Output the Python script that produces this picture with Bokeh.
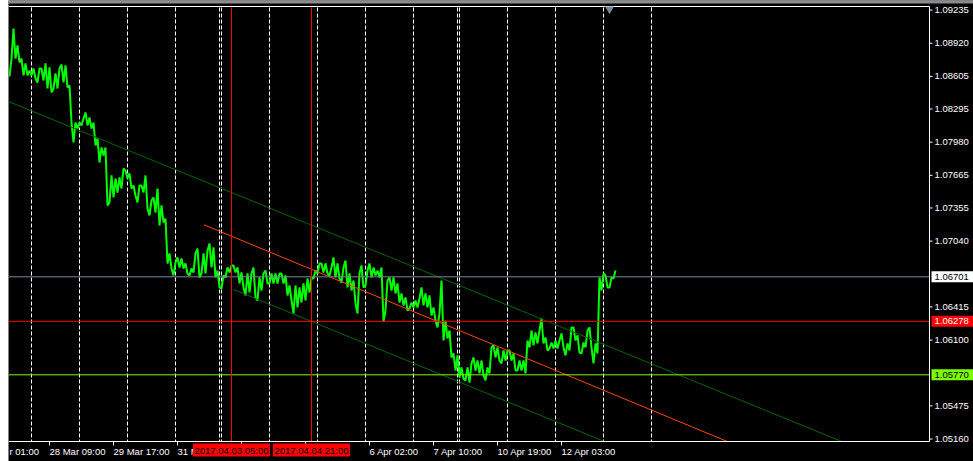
from bokeh.plotting import figure
from bokeh.models import Range1d
from bokeh.core.properties import value
from bokeh.embed import file_html
from bokeh.resources import INLINE

# ---- price data (EURUSD, 1 bar = 1 trading hour), read in 2-bar windows ----
highs = [1.08775, 1.09060, 1.08899, 1.08775, 1.08728, 1.08661, 1.08680, 1.08680, 1.08680, 1.08728,
         1.08690, 1.08633, 1.08680, 1.08718, 1.08709, 1.08519, 1.08167, 1.08167, 1.08205, 1.08262,
         1.08215, 1.08167, 1.08015, 1.07930, 1.07930, 1.07664, 1.07635, 1.07645, 1.07730, 1.07711,
         1.07683, 1.07569, 1.07569, 1.07569, 1.07664, 1.07426, 1.07455, 1.07540, 1.07379, 1.07255,
         1.06923, 1.06837, 1.06885, 1.06875, 1.06828, 1.06780, 1.06923, 1.06970, 1.06923, 1.06951,
         1.07018, 1.06980, 1.06761, 1.06714, 1.06790, 1.06809, 1.06809, 1.06790, 1.06742, 1.06733,
         1.06733, 1.06790, 1.06695, 1.06733, 1.06761, 1.06733, 1.06733, 1.06733, 1.06733, 1.06714,
         1.06619, 1.06619, 1.06600, 1.06638, 1.06685, 1.06695, 1.06761, 1.06828, 1.06828, 1.06828,
         1.06790, 1.06885, 1.06828, 1.06790, 1.06856, 1.06733, 1.06666, 1.06733, 1.06809, 1.06761,
         1.06828, 1.06790, 1.06761, 1.06790, 1.06666, 1.06695, 1.06695, 1.06638, 1.06543, 1.06505,
         1.06457, 1.06476, 1.06495, 1.06600, 1.06543, 1.06524, 1.06410, 1.06353, 1.06666, 1.06286,
         1.06191, 1.05973, 1.05954, 1.05840, 1.05840, 1.05878, 1.05935, 1.05906, 1.05906, 1.05840,
         1.06030, 1.06049, 1.06030, 1.06001, 1.06001, 1.06001, 1.05973, 1.05906, 1.05906, 1.06096,
         1.06191, 1.06172, 1.06191, 1.06305, 1.06125, 1.06077, 1.06096, 1.06096, 1.06163, 1.06068,
         1.06220, 1.06220, 1.06144, 1.06077, 1.06191, 1.06220, 1.06068, 1.06695, 1.06733, 1.06714,
         1.06695, 1.06761]
lows = [1.08604, 1.08775, 1.08737, 1.08614, 1.08614, 1.08614, 1.08585, 1.08547, 1.08566, 1.08490,
        1.08452, 1.08490, 1.08490, 1.08547, 1.08500, 1.08167, 1.07977, 1.08110, 1.08139, 1.08139,
        1.08110, 1.07949, 1.07787, 1.07854, 1.07379, 1.07407, 1.07455, 1.07502, 1.07540, 1.07635,
        1.07540, 1.07474, 1.07407, 1.07502, 1.07350, 1.07284, 1.07312, 1.07189, 1.07217, 1.06828,
        1.06780, 1.06714, 1.06790, 1.06780, 1.06733, 1.06714, 1.06742, 1.06695, 1.06733, 1.06733,
        1.06790, 1.06695, 1.06600, 1.06590, 1.06695, 1.06742, 1.06742, 1.06638, 1.06600, 1.06524,
        1.06552, 1.06505, 1.06476, 1.06571, 1.06638, 1.06638, 1.06638, 1.06638, 1.06638, 1.06524,
        1.06476, 1.06353, 1.06410, 1.06457, 1.06476, 1.06552, 1.06685, 1.06733, 1.06742, 1.06733,
        1.06714, 1.06695, 1.06685, 1.06647, 1.06600, 1.06571, 1.06448, 1.06353, 1.06600, 1.06619,
        1.06695, 1.06714, 1.06695, 1.06277, 1.06381, 1.06571, 1.06543, 1.06457, 1.06429, 1.06381,
        1.06400, 1.06410, 1.06410, 1.06429, 1.06410, 1.06334, 1.06286, 1.06220, 1.06096, 1.06115,
        1.05935, 1.05811, 1.05745, 1.05735, 1.05716, 1.05697, 1.05811, 1.05783, 1.05764, 1.05716,
        1.05783, 1.05935, 1.05906, 1.05878, 1.05906, 1.05906, 1.05811, 1.05811, 1.05811, 1.05783,
        1.06030, 1.06049, 1.06068, 1.06068, 1.06001, 1.06020, 1.06020, 1.06020, 1.06030, 1.05954,
        1.06001, 1.06096, 1.05982, 1.05973, 1.06030, 1.06030, 1.05878, 1.05973, 1.06571, 1.06600,
        1.06600, 1.06685]

# time axis: bar index of each tick and its label ("" = hidden under an object label)
time_tick_bars = [-12, 20, 52, 84, 116, 148, 180, 212, 244, 276]
time_tick_labels = ["r 01:00", "28 Mar 09:00", "29 Mar 17:00", "31 Mar 01:00", "", "",
                    "6 Apr 02:00", "7 Apr 10:00", "10 Apr 19:00", "12 Apr 03:00"]
day_sep_bars = [11, 35, 59, 83, 105, 106, 130, 154, 178, 202, 224, 225, 249, 273, 297, 321]
price_ticks = [1.09235, 1.08920, 1.08605, 1.08295, 1.07980, 1.07665, 1.07355, 1.07040,
               1.06415, 1.06100, 1.05475, 1.05160]

vline_bars = [111, 151]
vline_labels = ["2017.04.03 05:00", "2017.04.04 21:00"]

hline_prices = [1.06701, 1.06278, 1.05770]
hline_colors = ["#778899", "#ff0000", "#7cfc00"]
hline_label_bg = ["#ffffff", "#ff0000", "#7cfc00"]
hline_label_fg = ["#000000", "#ffffff", "#000000"]

channel_upper_bars = [-0.5, 416.25]
channel_upper_prices = [1.08366, 1.05136]
channel_lower_bars = [112, 297.5]
channel_lower_prices = [1.06581, 1.05136]
trend_bars = [97.25, 359]
trend_prices = [1.07195, 1.05136]
shift_marker_bar = 300

# ---- layout (canvas pixels) ----
W, H = 965, 461
YPX = 0.000095                      # price per pixel
XPX = 0.5                           # bars per pixel
X_START = -0.5
X_END = X_START + W * XPX
Y_END = 1.09326
Y_START = Y_END - H * YPX
FONT = value("Liberation Sans")
FSIZE = "9.5px"


def bx(c):      # canvas x (px) -> bar coordinate
    return X_START + c * XPX


def py(c):      # canvas y (px, from top) -> price coordinate
    return Y_END - c * YPX


F_LEFT, F_RIGHT, F_TOP, F_BOTTOM = 0, 921, 6, 441

p = figure(width=W, height=H, x_range=Range1d(X_START, X_END), y_range=Range1d(Y_START, Y_END),
           output_backend="svg", toolbar_location=None, x_axis_location=None, y_axis_location=None,
           min_border=0, background_fill_color="black", border_fill_color="black",
           outline_line_color=None, margin=(0, 0, 0, 8))
p.grid.visible = False

# top strip
p.quad(left=[X_START], right=[X_END], top=[Y_END], bottom=[py(3)], color="#8c8c8c", line_width=0)

# day separators
p.segment(x0=day_sep_bars, y0=[py(F_TOP + 1)] * len(day_sep_bars), x1=day_sep_bars,
          y1=[py(F_BOTTOM)] * len(day_sep_bars), line_color="white", line_dash="4 2", line_width=1)

# price line (zig-zag through each window's high and low)
n = len(highs)
line_x, line_y = [], []
for k in range(n):
    mid = (highs[k] + lows[k]) / 2
    nxt = (highs[k + 1] + lows[k + 1]) / 2 if k + 1 < n else mid
    first, second = (highs[k], lows[k]) if nxt < mid else (lows[k], highs[k])
    line_x += [2 * k, 2 * k + 1]
    line_y += [first, second]
p.line(line_x, line_y, line_color="#00ff00", line_width=2)

# channel & trend lines
p.line(channel_upper_bars, channel_upper_prices, line_color="#006400", line_width=1)
p.line(channel_lower_bars, channel_lower_prices, line_color="#006400", line_width=1)
p.line(trend_bars, trend_prices, line_color="#ff4500", line_width=1)

# horizontal and vertical line objects
p.segment(x0=[bx(F_LEFT)] * 3, y0=hline_prices, x1=[bx(F_RIGHT)] * 3, y1=hline_prices,
          line_color=hline_colors, line_width=1)
p.segment(x0=vline_bars, y0=[py(F_TOP + 1)] * 2, x1=vline_bars, y1=[py(F_BOTTOM)] * 2,
          line_color="#ff0000", line_width=1)

# frame border: top, right, bottom
fx = bx(F_RIGHT)
p.segment(x0=[bx(F_LEFT), fx, bx(F_LEFT)], y0=[py(F_TOP), py(F_TOP), py(F_BOTTOM)],
          x1=[fx, fx, fx], y1=[py(F_TOP), py(F_BOTTOM), py(F_BOTTOM)],
          line_color="white", line_width=1)

# chart-shift marker
p.scatter([shift_marker_bar], [py(F_TOP + 2.5)], marker="inverted_triangle", size=9,
          color="#778899", line_width=0)

# price scale ticks and labels
p.segment(x0=[fx] * len(price_ticks), y0=price_ticks, x1=[bx(F_RIGHT + 3)] * len(price_ticks),
          y1=price_ticks, line_color="white", line_width=1)
p.text(x=[bx(F_RIGHT + 5)] * len(price_ticks), y=price_ticks, text=[f"{v:.5f}" for v in price_ticks],
       text_align="left", text_baseline="middle", text_color="white", text_font=FONT,
       text_font_size=FSIZE)

# time scale ticks and labels
tick_in = [b for b in time_tick_bars if b > X_START]
p.segment(x0=tick_in, y0=[py(F_BOTTOM)] * len(tick_in), x1=tick_in,
          y1=[py(F_BOTTOM + 4)] * len(tick_in), line_color="white", line_width=1)
lab_x = [max(b, X_START + 0.5) for b, t in zip(time_tick_bars, time_tick_labels) if t]
lab_t = [t for t in time_tick_labels if t]
p.text(x=lab_x, y=[py(451)] * len(lab_t), text=lab_t, text_align="left", text_baseline="middle",
       text_color="white", text_font=FONT, text_font_size=FSIZE)

# object labels on the time scale
p.rect(x=vline_bars, y=[py(449.5)] * 2, width=77 * XPX, height=13 * YPX, fill_color="#ff0000",
       line_color=None)
p.text(x=vline_bars, y=[py(450)] * 2, text=vline_labels, text_align="center",
       text_baseline="middle", text_color="black", text_font=FONT, text_font_size=FSIZE)

# object labels on the price scale
p.quad(left=[bx(F_RIGHT + 2)] * 3, right=[X_END] * 3, top=[v + 5.5 * YPX for v in hline_prices],
       bottom=[v - 5.5 * YPX for v in hline_prices], fill_color=hline_label_bg, line_color=None)
p.text(x=[bx(F_RIGHT + 5)] * 3, y=hline_prices, text=[f"{v:.5f}" for v in hline_prices],
       text_align="left", text_baseline="middle", text_color=hline_label_fg, text_font=FONT,
       text_font_size=FSIZE)

open("out.html", "w").write(file_html(p, INLINE))
